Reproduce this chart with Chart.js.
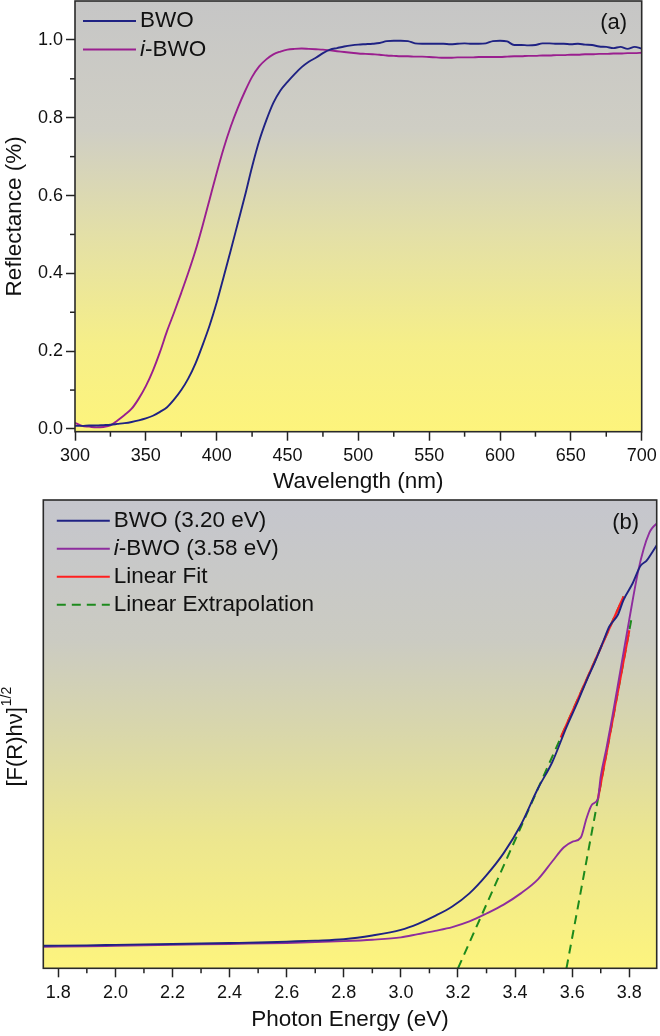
<!DOCTYPE html>
<html><head><meta charset="utf-8">
<script src="https://cdn.jsdelivr.net/npm/chart.js@4.4.1/dist/chart.umd.min.js"></script>
<style>
html,body{margin:0;padding:0;background:#fff;}
#wrap{position:relative;width:660px;height:1036px;overflow:hidden;background:#fff;}
#c1{position:absolute;left:0;top:0;}
#c2{position:absolute;left:0;top:495px;}
</style></head><body>
<div id="wrap"><canvas id="c1" width="660" height="495"></canvas><canvas id="c2" width="660" height="541"></canvas></div>
<script>
// ---------- Panel (a): reflectance ----------
const wavelength = [300,305,310,315,320,325,330,335,340,345,350,355,360,365,370,375,380,385,390,395,400,405,410,415,420,425,430,435,440,445,450,455,460,465,470,475,480,485,490,495,500,505,510,515,520,525,530,535,540,545,550,555,560,565,570,575,580,585,590,595,600,605,610,615,620,625,630,635,640,645,650,655,660,665,670,675,680,685,690,695,700];
const reflBWO = [0.008,0.008,0.009,0.009,0.010,0.011,0.013,0.015,0.018,0.022,0.027,0.034,0.044,0.056,0.076,0.100,0.130,0.168,0.215,0.266,0.325,0.392,0.460,0.530,0.600,0.674,0.740,0.793,0.838,0.870,0.892,0.912,0.930,0.944,0.954,0.966,0.975,0.979,0.983,0.986,0.988,0.989,0.990,0.992,0.997,0.998,0.998,0.997,0.991,0.990,0.990,0.990,0.990,0.989,0.990,0.991,0.990,0.990,0.991,0.997,0.998,0.996,0.987,0.987,0.986,0.987,0.991,0.991,0.990,0.990,0.989,0.990,0.988,0.987,0.983,0.982,0.979,0.982,0.977,0.982,0.978];
const reflIBWO = [0.016,0.008,0.006,0.004,0.005,0.009,0.022,0.036,0.052,0.078,0.110,0.150,0.198,0.252,0.300,0.350,0.402,0.458,0.522,0.590,0.658,0.722,0.778,0.826,0.868,0.905,0.932,0.950,0.963,0.970,0.975,0.977,0.978,0.977,0.976,0.975,0.973,0.971,0.969,0.967,0.965,0.964,0.963,0.962,0.960,0.959,0.958,0.958,0.957,0.957,0.956,0.955,0.954,0.954,0.955,0.955,0.955,0.956,0.956,0.956,0.956,0.957,0.958,0.958,0.959,0.959,0.960,0.960,0.961,0.961,0.962,0.962,0.963,0.963,0.964,0.964,0.965,0.965,0.966,0.966,0.967];
const wlTicks = [300,350,400,450,500,550,600,650,700];
const wlMinor = [325,375,425,475,525,575,625,675];
const reflTicks = [0.0,0.2,0.4,0.6,0.8,1.0];
const reflMinor = [0.1,0.3,0.5,0.7,0.9];

// ---------- Panel (b): Tauc plot ----------
const energyBWO = [1.75,1.9,2.0,2.1,2.2,2.3,2.4,2.5,2.6,2.7,2.8,2.9,3.0,3.06,3.12,3.18,3.24,3.30,3.36,3.42,3.48,3.53,3.58,3.62,3.65,3.68,3.71,3.73,3.76,3.78,3.81,3.84,3.86,3.88,3.90];
const taucBWO = [0.048,0.049,0.050,0.051,0.052,0.053,0.054,0.055,0.057,0.059,0.062,0.070,0.082,0.095,0.112,0.132,0.160,0.199,0.246,0.306,0.384,0.440,0.515,0.570,0.614,0.655,0.700,0.730,0.755,0.787,0.820,0.860,0.870,0.888,0.907];
const energyIBWO = [1.75,1.9,2.0,2.2,2.4,2.6,2.8,2.9,3.0,3.06,3.12,3.18,3.24,3.30,3.36,3.42,3.48,3.53,3.57,3.60,3.63,3.65,3.67,3.69,3.70,3.72,3.74,3.77,3.80,3.83,3.85,3.87,3.88,3.90];
const taucIBWO = [0.046,0.047,0.048,0.050,0.052,0.054,0.058,0.061,0.066,0.073,0.080,0.088,0.100,0.117,0.136,0.160,0.190,0.228,0.258,0.270,0.279,0.320,0.350,0.362,0.410,0.470,0.535,0.640,0.745,0.845,0.895,0.930,0.940,0.952];
const fitBWOx = [3.56,3.78], fitBWOy = [0.493,0.794];
const fitIBWOx = [3.69,3.80], fitIBWOy = [0.361,0.722];
const extBWOx = [3.20,3.78], extBWOy = [0.0,0.794];
const extIBWOx = [3.58,3.81], extIBWOy = [0.0,0.754];
const energyTicks = [1.8,2.0,2.2,2.4,2.6,2.8,3.0,3.2,3.4,3.6,3.8];
const energyMinor = [1.9,2.1,2.3,2.5,2.7,2.9,3.1,3.3,3.5,3.7];

const FONT = '"Liberation Sans", Arial, Helvetica, sans-serif';
Chart.defaults.font.family = FONT;
Chart.defaults.color = '#111';

const pts = (xs, ys) => xs.map((x, i) => ({x, y: ys[i]}));

const decor = {
  id: 'decor',
  beforeDraw(chart, args, o) {
    const {ctx, chartArea: a} = chart;
    const g = ctx.createLinearGradient(0, a.top, 0, a.bottom);
    o.stops.forEach(s => g.addColorStop(s[0], s[1]));
    ctx.save(); ctx.fillStyle = g; ctx.fillRect(a.left, a.top, a.right - a.left, a.bottom - a.top); ctx.restore();
  },
  afterDraw(chart, args, o) {
    const {ctx, chartArea: a} = chart;
    ctx.save();
    ctx.strokeStyle = '#222'; ctx.lineWidth = 1.5;
    (o.minorX || []).forEach(v => {
      const px = chart.scales.x.getPixelForValue(v);
      ctx.beginPath(); ctx.moveTo(px, a.bottom); ctx.lineTo(px, a.bottom + 5); ctx.stroke();
    });
    (o.minorY || []).forEach(v => {
      const py = chart.scales.y.getPixelForValue(v);
      ctx.beginPath(); ctx.moveTo(a.left, py); ctx.lineTo(a.left - 5, py); ctx.stroke();
    });
    ctx.lineWidth = 1.6; ctx.strokeStyle = '#2a2a2a';
    ctx.strokeRect(a.left, a.top, a.right - a.left, a.bottom - a.top);
    ctx.textBaseline = 'middle'; ctx.fillStyle = '#111';
    o.legendIdx.forEach((di, i) => {
      const ds = chart.data.datasets[di];
      const y = a.top + o.legendY + i * o.legendDy;
      const x0 = a.left + o.legendX;
      ctx.save();
      ctx.strokeStyle = ds.borderColor; ctx.lineWidth = 2; ctx.setLineDash(ds.borderDash || []);
      ctx.beginPath(); ctx.moveTo(x0, y); ctx.lineTo(x0 + 53, y); ctx.stroke();
      ctx.restore();
      let x = x0 + 57;
      const lab = ds.label;
      const parts = lab.startsWith('i-') ? [['i', true], [lab.slice(1), false]] : [[lab, false]];
      parts.forEach(p => {
        ctx.font = (p[1] ? 'italic ' : '') + '22.5px ' + FONT;
        ctx.fillText(p[0], x, y); x += ctx.measureText(p[0]).width;
      });
    });
    ctx.font = '22px ' + FONT; ctx.textAlign = 'center';
    ctx.fillText(o.panel, a.right - o.panelDx, a.top + o.panelDy);
    if (o.yTitle) {
      const cx = 14, cy = (a.top + a.bottom) / 2 + 3;
      ctx.translate(cx, cy); ctx.rotate(-Math.PI / 2);
      ctx.textAlign = 'left';
      ctx.font = '22px ' + FONT; const w1 = ctx.measureText(o.yTitle[0]).width;
      ctx.font = '14px ' + FONT; const w2 = ctx.measureText(o.yTitle[1]).width;
      let x = -(w1 + w2) / 2;
      ctx.font = '22px ' + FONT; ctx.fillText(o.yTitle[0], x, 2);
      ctx.font = '14px ' + FONT; ctx.fillText(o.yTitle[1], x + w1 + 1, -7);
    }
    ctx.restore();
  }
};

const tickGrid = {display: true, drawOnChartArea: false, drawTicks: true, tickLength: 9, tickColor: '#222', tickWidth: 1.5};
const noPad = s => { s.paddingTop = 0; s.paddingBottom = 0; s.paddingLeft = 0; s.paddingRight = 0; };
const curve = {pointRadius: 0, borderWidth: 1.9, cubicInterpolationMode: 'monotone'};

new Chart(document.getElementById('c1'), {
  type: 'line',
  data: {datasets: [
    {label: 'BWO', data: pts(wavelength, reflBWO), borderColor: '#1f2283', ...curve},
    {label: 'i-BWO', data: pts(wavelength, reflIBWO), borderColor: '#9a1f8f', ...curve}
  ]},
  plugins: [decor],
  options: {
    responsive: false, animation: false, devicePixelRatio: 1,
    layout: {padding: {top: 1, right: 18.3, left: 0, bottom: 0}},
    plugins: {
      legend: {display: false}, tooltip: {enabled: false},
      decor: {
        stops: [[0, '#c6c6c6'], [0.3, '#cfcec4'], [0.55, '#e4e0a6'], [0.8, '#f6ef88'], [1, '#fdf47c']],
        minorX: wlMinor, minorY: reflMinor,
        legendIdx: [0, 1], legendX: 8, legendY: 20, legendDy: 28.6,
        panel: '(a)', panelDx: 28, panelDy: 22
      }
    },
    scales: {
      x: {type: 'linear', min: 300, max: 700,
        afterBuildTicks: s => { s.ticks = wlTicks.map(v => ({value: v})); },
        afterFit: s => { s.height = 63.3; noPad(s); },
        ticks: {font: {size: 18}, color: '#111', padding: 5, maxRotation: 0, autoSkip: false, callback: v => String(v)},
        grid: tickGrid, border: {display: false},
        title: {display: true, text: 'Wavelength (nm)', font: {size: 22.5}, color: '#111', padding: {top: 0, bottom: 0}}},
      y: {type: 'linear', min: -0.007, max: 1.10,
        afterBuildTicks: s => { s.ticks = reflTicks.map(v => ({value: v})); },
        afterFit: s => { s.width = 75; noPad(s); },
        ticks: {font: {size: 18}, color: '#111', padding: 3, autoSkip: false, callback: v => v.toFixed(1)},
        grid: tickGrid, border: {display: false},
        title: {display: true, text: 'Reflectance (%)', font: {size: 22.5}, color: '#111', padding: {top: 1, bottom: 0}}}
    }
  }
});

new Chart(document.getElementById('c2'), {
  type: 'line',
  data: {datasets: [
    {label: 'BWO (3.20 eV)', data: pts(energyBWO, taucBWO), borderColor: '#1f2283', ...curve},
    {label: 'i-BWO (3.58 eV)', data: pts(energyIBWO, taucIBWO), borderColor: '#8e2d9e', ...curve},
    {label: 'Linear Fit', data: pts(fitBWOx, fitBWOy), borderColor: '#ff1f1f', borderWidth: 2.2, pointRadius: 0, tension: 0},
    {label: 'Linear Fit', data: pts(fitIBWOx, fitIBWOy), borderColor: '#ff1f1f', borderWidth: 2.2, pointRadius: 0, tension: 0},
    {label: 'Linear Extrapolation', data: pts(extBWOx, extBWOy), borderColor: '#1d8a1d', borderDash: [9, 6], borderWidth: 2, pointRadius: 0, tension: 0},
    {label: 'Linear Extrapolation', data: pts(extIBWOx, extIBWOy), borderColor: '#1d8a1d', borderDash: [9, 6], borderWidth: 2, pointRadius: 0, tension: 0}
  ]},
  plugins: [decor],
  options: {
    responsive: false, animation: false, devicePixelRatio: 1,
    layout: {padding: {top: 5, right: 3.3, left: 0, bottom: 0}},
    plugins: {
      legend: {display: false}, tooltip: {enabled: false},
      decor: {
        stops: [[0, '#c5c6cd'], [0.3, '#cbcbc2'], [0.5, '#d9d7aa'], [0.72, '#ece68f'], [1, '#fdf47e']],
        minorX: energyMinor, minorY: [],
        legendIdx: [0, 1, 2, 4], legendX: 13.5, legendY: 20.7, legendDy: 28,
        panel: '(b)', panelDx: 31, panelDy: 23,
        yTitle: ['[F(R)h\u03bd]', '1/2']
      }
    },
    scales: {
      x: {type: 'linear', min: 1.7475, max: 3.896,
        afterBuildTicks: s => { s.ticks = energyTicks.map(v => ({value: v})); },
        afterFit: s => { s.height = 67.7; noPad(s); },
        ticks: {font: {size: 18}, color: '#111', padding: 5, maxRotation: 0, autoSkip: false, callback: v => v.toFixed(1)},
        grid: tickGrid, border: {display: false},
        title: {display: true, text: 'Photon Energy (eV)', font: {size: 22.5}, color: '#111', padding: {top: 0, bottom: 2.8}}},
      y: {type: 'linear', min: 0, max: 1,
        afterFit: s => { s.width = 43.3; noPad(s); },
        ticks: {display: false}, grid: {display: false}, border: {display: false},
        title: {display: false}}
    }
  }
});
</script>
</body></html>
